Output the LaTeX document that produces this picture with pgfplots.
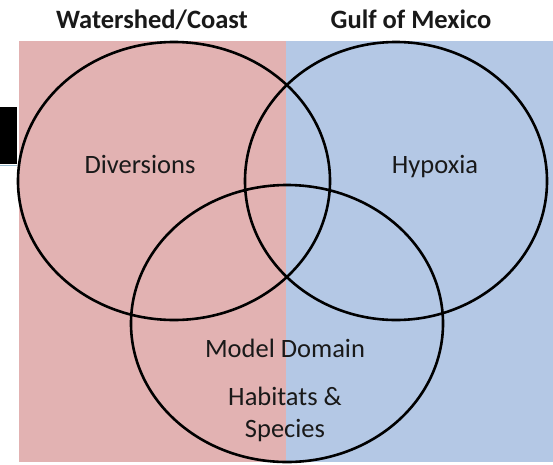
\documentclass[border=0pt]{standalone}
\usepackage{pgfplots}
\pgfplotsset{compat=1.18}
\usepackage{fontspec}
\setmainfont{Carlito}
\definecolor{pinkbg}{RGB}{226,178,178}
\definecolor{bluebg}{RGB}{180,200,229}
\definecolor{edgeblue}{RGB}{150,185,205}
\definecolor{txt}{RGB}{25,25,25}
\begin{document}
\begin{tikzpicture}
\begin{axis}[
  width=553pt, height=464pt, scale only axis,
  xmin=0, xmax=553, ymin=0, ymax=464, y dir=reverse,
  hide axis, clip=false,
]
\coordinate (BBa) at (axis cs:0,0);
\coordinate (BBb) at (axis cs:553,464);
% background halves
\addplot[draw=none, fill=pinkbg] coordinates {(18.5,41) (286,41) (286,462) (18.5,462)} -- cycle;
\addplot[draw=none, fill=bluebg] coordinates {(286,41) (553,41) (553,462) (286,462)} -- cycle;
% black block at left edge
\addplot[draw=none, fill=black] coordinates {(0,107) (17,107) (17,164) (0,164)} -- cycle;
\addplot[edgeblue, line width=1.5pt] coordinates {(0,165.5) (17,165.5)};
% circles
\draw[black, line width=2.6pt] (axis cs:174,181) ellipse [x radius=156, y radius=139];
\draw[black, line width=2.6pt] (axis cs:396,181) ellipse [x radius=151, y radius=139];
\draw[black, line width=2.6pt] (axis cs:287,323.5) ellipse [x radius=156, y radius=138.5];
% titles
\node[anchor=base, font=\fontsize{26.5}{30}\selectfont\bfseries, text=txt] at (axis cs:152,28) {Watershed/Coast};
\node[anchor=base, font=\fontsize{26.5}{30}\selectfont\bfseries, text=txt] at (axis cs:411,28) {Gulf of Mexico};
% labels
\node[anchor=base, font=\fontsize{26.5}{30}\selectfont, text=txt] at (axis cs:140,173) {Diversions};
\node[anchor=base, font=\fontsize{26.5}{30}\selectfont, text=txt] at (axis cs:435,173) {Hypoxia};
\node[anchor=base, font=\fontsize{26.5}{30}\selectfont, text=txt] at (axis cs:285,357) {Model Domain};
\node[anchor=base, font=\fontsize{26.5}{30}\selectfont, text=txt] at (axis cs:285,405) {Habitats \&};
\node[anchor=base, font=\fontsize{26.5}{30}\selectfont, text=txt] at (axis cs:285,437) {Species};
\end{axis}
\pgfresetboundingbox
\path[use as bounding box] (BBa) rectangle (BBb);
\end{tikzpicture}
\end{document}
